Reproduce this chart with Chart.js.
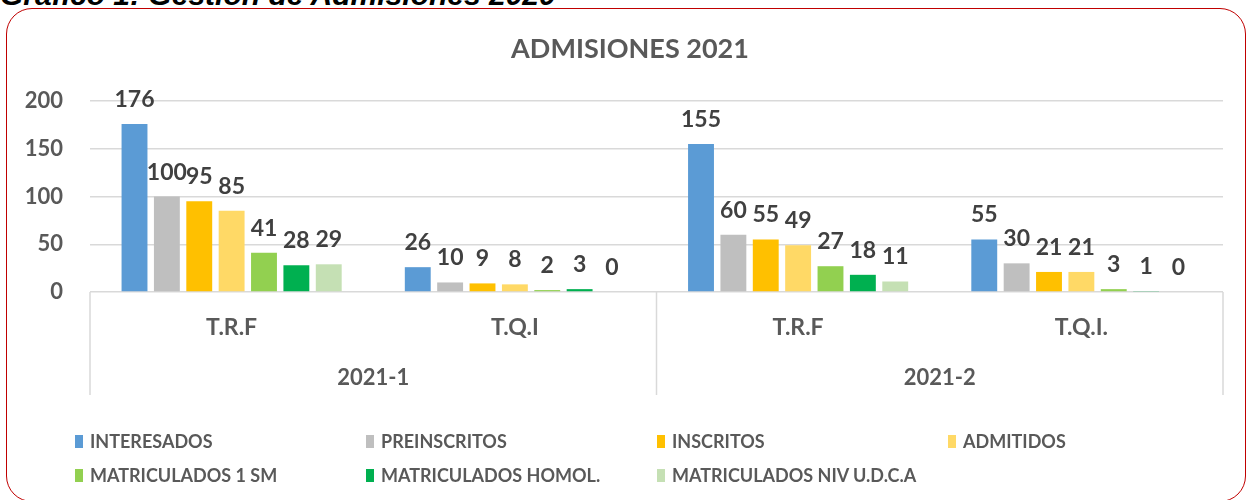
<!DOCTYPE html>
<html><head><meta charset="utf-8">
<script src="https://cdn.jsdelivr.net/npm/chart.js@4"></script>
<style>
html,body{margin:0;padding:0;background:#fff;}
#wrap{position:relative;width:1247px;height:500px;overflow:hidden;background:#fff;}
#cap{position:absolute;left:0px;top:-20px;font:italic bold 30px "Liberation Sans",Arial,sans-serif;color:#000;white-space:nowrap;line-height:1;}
#frame{position:absolute;left:6px;top:8px;width:1240px;height:494px;border:1.5px solid #c00000;border-radius:26px;box-sizing:border-box;}
canvas{position:absolute;left:0;top:0;}
#legend{position:absolute;left:0;top:0;width:1247px;height:500px;pointer-events:none;}
.li{position:absolute;display:flex;align-items:center;font:bold 18px Lato,sans-serif;color:#595959;white-space:nowrap;transform:translateY(-50%);}
.sw{width:8px;height:13px;margin-right:7px;flex:none;}
</style></head>
<body><div id="wrap"><div id="cap">Gráfico 1: Gestión de Admisiones 2020</div><div id="frame"></div><canvas id="c" width="1247" height="500"></canvas><div id="legend"></div></div>
<script>
const subCategories = ['T.R.F', 'T.Q.I', 'T.R.F', 'T.Q.I.'];
const periods = ['2021-1', '2021-2'];
const yTicks = [0, 50, 100, 150, 200];
const seriesNames = ['INTERESADOS', 'PREINSCRITOS', 'INSCRITOS', 'ADMITIDOS', 'MATRICULADOS 1 SM', 'MATRICULADOS HOMOL.', 'MATRICULADOS NIV U.D.C.A'];
const interesados = [176, 26, 155, 55];
const preinscritos = [100, 10, 60, 30];
const inscritos = [95, 9, 55, 21];
const admitidos = [85, 8, 49, 21];
const matriculados1sm = [41, 2, 27, 3];
const matriculadosHomol = [28, 3, 18, 1];
const matriculadosNiv = [29, 0, 11, 0];
const seriesColors = ['#5b9bd5', '#bfbfbf', '#ffc000', '#ffd966', '#92d050', '#00b050', '#c5e0b4'];

const seriesValues = [interesados, preinscritos, inscritos, admitidos, matriculados1sm, matriculadosHomol, matriculadosNiv];
const datasets = seriesNames.map((n, i) => ({
  label: n, data: seriesValues[i], backgroundColor: seriesColors[i],
  borderWidth: 0, categoryPercentage: 0.8, barPercentage: 0.8
}));

const FONT = 'Lato, sans-serif';

const valueLabels = {
  id: 'valueLabels',
  afterDatasetsDraw(chart) {
    const ctx = chart.ctx;
    ctx.save();
    ctx.font = 'bold 23px ' + FONT;
    ctx.fillStyle = '#404040';
    ctx.textAlign = 'center';
    ctx.textBaseline = 'alphabetic';
    chart.data.datasets.forEach((ds, di) => {
      chart.getDatasetMeta(di).data.forEach((bar, j) => {
        ctx.fillText(String(ds.data[j]), bar.x, bar.y - 17);
      });
    });
    ctx.restore();
  }
};

const groupLines = {
  id: 'groupLines',
  afterLayout(chart) {
    // centre the title over the framed chart rather than the whole canvas
    chart.titleBlock.left = 37;
  },
  afterDraw(chart) {
    const ctx = chart.ctx, a = chart.chartArea, x = chart.scales.x;
    const mid = (x.getPixelForValue(1) + x.getPixelForValue(2)) / 2;
    ctx.save();
    ctx.strokeStyle = '#d9d9d9';
    ctx.lineWidth = 1.5;
    ctx.beginPath();
    [a.left, mid, a.right].forEach(px => { ctx.moveTo(px, a.bottom); ctx.lineTo(px, 395); });
    ctx.stroke();
    ctx.restore();
  }
};

const chart = new Chart(document.getElementById('c'), {
  type: 'bar',
  data: { labels: subCategories, datasets },
  options: {
    responsive: false, animation: false, devicePixelRatio: 1,
    layout: { padding: { left: 0, right: 24, top: 0, bottom: 100 } },
    plugins: {
      legend: { display: false },
      tooltip: { enabled: false },
      title: {
        display: true, text: 'ADMISIONES 2021', color: '#595959',
        font: { family: FONT, size: 27, weight: 'bold', lineHeight: 1.2 },
        padding: { top: 33, bottom: 35.6 }
      }
    },
    scales: {
      y: {
        min: 0, max: 200,
        afterBuildTicks: s => { s.ticks = yTicks.map(v => ({ value: v })); },
        afterFit: s => { s.width = 90; },
        grid: { color: '#d9d9d9', lineWidth: 1.5, drawTicks: false },
        border: { display: false },
        ticks: { color: '#595959', font: { family: FONT, size: 22, weight: 'bold' }, padding: 27 }
      },
      x: {
        weight: 0,
        afterFit: s => { s.height = 62; },
        grid: { display: false, drawTicks: false },
        border: { display: false },
        ticks: { color: '#595959', font: { family: FONT, size: 23, weight: 'bold' }, padding: 22, maxRotation: 0 }
      },
      x2: {
        type: 'category', labels: periods, offset: true, position: 'bottom', weight: 1,
        afterFit: s => { s.height = 46; },
        grid: { display: false, drawTicks: false },
        border: { display: false },
        ticks: { color: '#595959', font: { family: FONT, size: 22, weight: 'bold' }, padding: 11, maxRotation: 0 }
      }
    }
  },
  plugins: [valueLabels, groupLines]
});

// HTML legend built from the chart's legend items
const legendEl = document.getElementById('legend');
const colX = [75, 366, 657, 948];
const rowY = [441, 475];
const items = chart.options.plugins.legend.labels.generateLabels(chart);
items.forEach((it, i) => {
  const d = document.createElement('div');
  d.className = 'li';
  d.style.left = colX[i % 4] + 'px';
  d.style.top = rowY[Math.floor(i / 4)] + 'px';
  const sw = document.createElement('span');
  sw.className = 'sw';
  sw.style.background = it.fillStyle;
  d.appendChild(sw);
  d.appendChild(document.createTextNode(it.text));
  legendEl.appendChild(d);
});
</script>
</body></html>
